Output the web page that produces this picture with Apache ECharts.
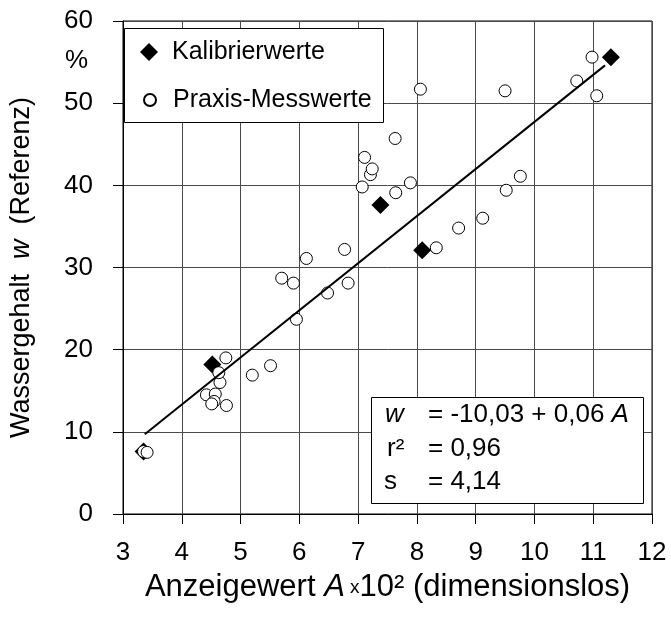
<!DOCTYPE html>
<html>
<head>
<meta charset="utf-8">
<script src="https://cdn.jsdelivr.net/npm/echarts@6/dist/echarts.min.js"></script>
<style>
html,body{margin:0;padding:0;background:#fff;}
#chart{width:671px;height:622px;}
</style>
</head>
<body>
<div id="chart"></div>
<script>
// ---- Data ----
const calibX = [3.35, 4.52, 7.38, 8.09, 11.30];
const calibY = [7.6, 18.2, 37.6, 32.1, 55.6];

const praxisX = [3.35, 3.41,
  4.42, 4.57, 4.55, 4.51, 4.76, 4.65, 4.63, 4.75,
  5.20, 5.51, 5.95, 5.70, 5.90, 6.12, 6.48, 6.77, 6.83,
  7.07, 7.21, 7.24, 7.11, 7.63, 7.64, 7.89, 8.06,
  8.33, 8.71, 9.12, 9.52, 9.76, 9.50, 10.72, 10.98, 11.06];
const praxisY = [7.6, 7.5,
  14.5, 14.6, 13.7, 13.4, 13.2, 16.0, 17.2, 19.0,
  16.9, 18.05, 23.7, 28.7, 28.1, 31.1, 26.9, 32.2, 28.1,
  39.8, 41.3, 42.0, 43.4, 45.7, 39.1, 40.3, 51.7,
  32.4, 34.8, 36.0, 39.4, 41.1, 51.5, 52.7, 55.6, 50.9];

const fitX = [3.37, 11.20];
const fitY = [9.7, 54.6];

const xMin = 3, xMax = 12, xStep = 1;
const yMin = 0, yMax = 60, yStep = 10;

const legendNames = ['Kalibrierwerte', 'Praxis-Messwerte'];
const statLabels = ['w', 'r²', 's'];
const statValues = ['= -10,03 + 0,06 ', '= 0,96', '= 4,14'];

// ---- Build ----
const FONT = 'Liberation Sans, Arial, sans-serif';
const zip = (a, b) => a.map((v, i) => [v, b[i]]);

const chart = echarts.init(document.getElementById('chart'), null, {renderer: 'canvas'});

const axisCommon = {
  axisLine: {show: true, lineStyle: {color: '#000', width: 1}},
  axisTick: {show: true, inside: false, length: 10, lineStyle: {color: '#000', width: 1}},
  splitLine: {show: true, lineStyle: {color: '#4a4a4a', width: 1}},
  axisLabel: {color: '#000', fontSize: 26, fontFamily: FONT}
};

const option = {
  backgroundColor: '#fff',
  animation: false,
  grid: {left: 112, right: 19, top: 21, bottom: 108, show: true, borderColor: '#000', borderWidth: 1, backgroundColor: 'transparent'},
  xAxis: Object.assign({}, axisCommon, {
    type: 'value', min: xMin, max: xMax, interval: xStep,
    axisLabel: Object.assign({}, axisCommon.axisLabel, {margin: 26}),
    name: '{n|Anzeigewert }{i|A}{x| x}{n|10² (dimensionslos)}',
    nameLocation: 'middle', nameGap: 58,
    nameTextStyle: {
      fontFamily: FONT, color: '#000', fontSize: 31,
      rich: {
        n: {fontSize: 31, fontFamily: FONT, color: '#000'},
        i: {fontSize: 31, fontFamily: FONT, color: '#000', fontStyle: 'italic'},
        x: {fontSize: 19, fontFamily: FONT, color: '#000'}
      }
    }
  }),
  yAxis: Object.assign({}, axisCommon, {
    type: 'value', min: yMin, max: yMax, interval: yStep,
    axisLabel: Object.assign({}, axisCommon.axisLabel, {margin: 30}),
    name: '{n|Wassergehalt  }{i|w}{n|  (Referenz)}',
    nameLocation: 'middle', nameGap: 88,
    nameTextStyle: {
      fontFamily: FONT, color: '#000', fontSize: 27,
      rich: {
        n: {fontSize: 27, fontFamily: FONT, color: '#000'},
        i: {fontSize: 27, fontFamily: FONT, color: '#000', fontStyle: 'italic'}
      }
    }
  }),
  legend: [
    {
      data: [legendNames[0]], left: 140, top: 38, padding: 0,
      itemWidth: 18, itemHeight: 18,
      textStyle: {fontSize: 25, fontFamily: FONT, color: '#000', lineHeight: 28, padding: [0, 0, 0, 9]}
    },
    {
      data: [legendNames[1]], left: 143, top: 86, padding: 0,
      itemWidth: 12, itemHeight: 12,
      textStyle: {fontSize: 25, fontFamily: FONT, color: '#000', lineHeight: 28, padding: [0, 0, 0, 12]}
    }
  ],
  graphic: [
    {type: 'rect', left: 124, top: 28, z: 3, shape: {width: 259, height: 94},
     style: {fill: '#fff', stroke: '#000', lineWidth: 1}},
    {type: 'text', left: 65, top: 48, z: 5,
     style: {text: '%', fontSize: 26, fontFamily: FONT, fill: '#000'}},
    {type: 'rect', left: 371, top: 397, z: 3, shape: {width: 272, height: 106},
     style: {fill: '#fff', stroke: '#000', lineWidth: 1}},
    {type: 'text', left: 385, top: 402, z: 5,
     style: {text: statLabels[0], fontSize: 26, fontFamily: FONT, fill: '#000', fontStyle: 'italic'}},
    {type: 'text', left: 387, top: 436, z: 5,
     style: {text: statLabels[1], fontSize: 26, fontFamily: FONT, fill: '#000'}},
    {type: 'text', left: 384, top: 469, z: 5,
     style: {text: statLabels[2], fontSize: 26, fontFamily: FONT, fill: '#000'}},
    {type: 'text', left: 428, top: 402, z: 5,
     style: {text: '{n|' + statValues[0] + '}{i|A}', fontSize: 26, fontFamily: FONT, fill: '#000',
       rich: {n: {fontSize: 26, fontFamily: FONT, color: '#000'}, i: {fontSize: 26, fontFamily: FONT, color: '#000', fontStyle: 'italic'}}}},
    {type: 'text', left: 428, top: 436, z: 5,
     style: {text: statValues[1], fontSize: 26, fontFamily: FONT, fill: '#000'}},
    {type: 'text', left: 428, top: 469, z: 5,
     style: {text: statValues[2], fontSize: 26, fontFamily: FONT, fill: '#000'}}
  ],
  series: [
    {
      name: legendNames[0], type: 'scatter', symbol: 'diamond', symbolSize: 18, z: 2,
      itemStyle: {color: '#000', borderColor: '#000', borderWidth: 0, opacity: 1},
      data: zip(calibX, calibY)
    },
    {
      name: legendNames[1], type: 'scatter', symbol: 'circle', symbolSize: 12, z: 3,
      itemStyle: {color: '#fff', borderColor: '#000', borderWidth: 1, opacity: 1},
      data: zip(praxisX, praxisY)
    },
    {
      name: 'fit', type: 'line', symbol: 'none', z: 4, silent: true,
      lineStyle: {color: '#000', width: 2},
      data: zip(fitX, fitY)
    }
  ]
};
chart.setOption(option);
</script>
</body>
</html>
